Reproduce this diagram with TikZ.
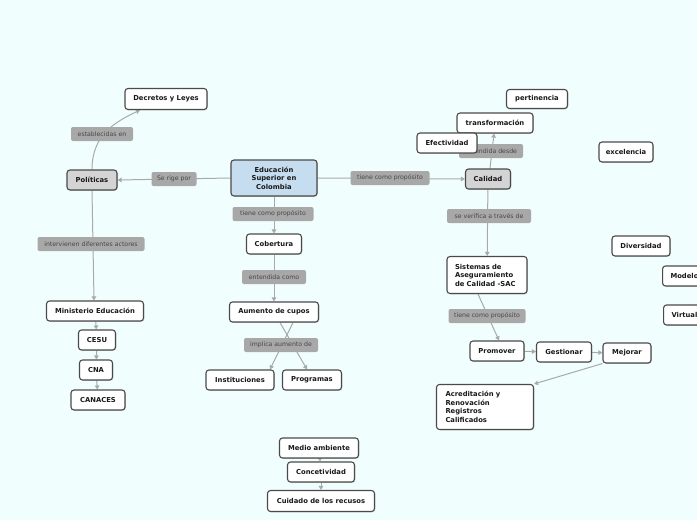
\documentclass[tikz,border=0pt]{standalone}
\usepackage{fontspec}
\setmainfont{DejaVu Sans}
\usetikzlibrary{arrows.meta,shadows,positioning}
\pgfdeclarelayer{fondo}
\pgfsetlayers{fondo,main}
\definecolor{cielo}{HTML}{F0FFFE}
\definecolor{borde}{HTML}{4A4A4A}
\definecolor{etiq}{HTML}{A8A8A8}
\definecolor{etiqtexto}{HTML}{474747}
\definecolor{linea}{HTML}{A9A9A9}
\definecolor{azul}{HTML}{C6DDF0}
\definecolor{gris}{HTML}{D4D4D4}
\tikzset{
  caja/.style={draw=borde, line width=1.1pt, fill=white, rounded corners=3pt,
    font=\fontsize{6.8}{8.5}\selectfont\bfseries, text=black!90,
    minimum height=20pt, inner xsep=2pt,
    drop shadow={shadow xshift=0.8pt, shadow yshift=-0.8pt, opacity=0.35}},
  etiqueta/.style={fill=etiq, rounded corners=2pt, text=etiqtexto,
    font=\fontsize{6.2}{7}\selectfont, minimum height=14pt, inner xsep=2pt},
  con/.style={draw=linea, line width=1pt, -{Triangle[length=4pt,width=4.5pt]}}
}
\begin{document}
\begin{tikzpicture}[x=1pt,y=-1pt]
  \useasboundingbox (0,0) rectangle (697,520);

  % conceptos
  \node[caja, fill=azul, minimum width=86pt, minimum height=36pt, align=center] (edu) at (274,178)
        {Educación\\Superior en\\Colombia};
  \node[caja, fill=gris, minimum width=50pt] (pol) at (92,180) {Políticas};
  \node[caja, minimum width=82pt, minimum height=21pt] (dec) at (166,99) {Decretos y Leyes};
  \node[caja, minimum width=97pt] (min) at (95,311) {Ministerio Educación};
  \node[caja, minimum width=37pt] (cesu) at (97,340) {CESU};
  \node[caja, minimum width=33pt] (cna) at (96,370) {CNA};
  \node[caja, minimum width=54pt] (canaces) at (98,400) {CANACES};
  \node[caja, minimum width=55pt] (cob) at (274,244) {Cobertura};
  \node[caja, minimum width=89pt] (aum) at (274,312) {Aumento de cupos};
  \node[caja, minimum width=68pt] (inst) at (240,380) {Instituciones};
  \node[caja, minimum width=59pt] (prog) at (312,380) {Programas};
  \node[caja, fill=gris, minimum width=45pt] (cal) at (488,179) {Calidad};
  \node[caja, minimum width=61pt, minimum height=19pt] (pert) at (537,99) {pertinencia};
  \node[caja, minimum width=76pt] (trans) at (495,123) {transformación};
  \node[caja, text width=64pt, inner xsep=8pt, minimum height=37pt, align=left] (sac) at (487,275)
        {Sistemas de\\Aseguramiento\\de Calidad -SAC};
  \node[caja, minimum width=54pt] (prom) at (497,351) {Promover};
  \node[caja, minimum width=55pt] (gest) at (564,352) {Gestionar};
  \node[caja, minimum width=48pt] (mej) at (627,353) {Mejorar};
  \node[caja, text width=79pt, inner xsep=9pt, minimum height=45pt, align=left] (acred) at (485,407)
        {Acreditación y\\Renovación\\Registros\\Calificados};
  \node[caja, minimum width=54pt] (exc) at (626,152) {excelencia};
  \node[caja, minimum width=58pt] (div) at (641,246) {Diversidad};
  \node[caja, anchor=west, inner xsep=8pt] (mod) at (662,276) {Modelo};
  \node[caja, anchor=west, inner xsep=8pt] (virt) at (663,315) {Virtual};
  \node[caja, minimum width=79pt] (medio) at (319,448) {Medio ambiente};
  \node[caja, minimum width=67pt] (conc) at (321,472) {Concetividad};
  \node[caja, minimum width=107pt, minimum height=21pt] (cuid) at (321,501) {Cuidado de los recusos};

  % etiquetas de enlace
  \node[etiqueta, minimum width=45pt] (rige) at (174,179) {Se rige por};
  \node[etiqueta, minimum width=62pt] (estab) at (102,134) {establecidas en};
  \node[etiqueta, minimum width=107pt] (interv) at (91,244) {intervienen diferentes actores};
  \node[etiqueta, minimum width=81pt] (prop1) at (273,214) {tiene como propósito};
  \node[etiqueta, minimum width=64pt] (entc) at (274,277) {entendida como};
  \node[etiqueta, minimum width=74pt] (impl) at (281,345) {implica aumento de};
  \node[etiqueta, minimum width=79pt] (prop2) at (390,178) {tiene como propósito};
  \node[etiqueta, minimum width=64pt] (entd) at (491,151) {entendida desde};
  \node[etiqueta, minimum width=84pt] (verif) at (489,216) {se verifica a través de};
  \node[etiqueta, minimum width=77pt] (prop3) at (487,316) {tiene como propósito};
  \node[caja, minimum width=60pt] (efec) at (447,143) {Efectividad};

  % enlaces
  \begin{pgfonlayer}{fondo}
    \fill[cielo] (0,0) rectangle (697,520);
    \draw[con] (edu.west) -- (pol.east);
    \draw[con] (pol.north) .. controls (92,135) and (115,122) .. ([xshift=-26pt]dec.south);
    \draw[con] (pol.south) -- ([xshift=-1pt]min.north);
    \draw[con] (min) -- (cesu);
    \draw[con] (cesu) -- (cna);
    \draw[con] (cna) -- (canaces);
    \draw[con] (edu) -- (cob);
    \draw[con] (cob) -- (aum);
    \draw[con] ([xshift=6pt]aum.south) -- ([xshift=-5pt]prog.north);
    \draw[con] ([xshift=19pt]aum.south) -- ([xshift=30pt]inst.north);
    \draw[con] (edu.east) -- (cal.west);
    \draw[con] ([xshift=2pt]cal.north) -- ([xshift=-1pt]trans.south);
    \draw[con] (cal) -- (sac);
    \draw[con] ([xshift=-9pt]sac.south) -- ([xshift=2pt]prom.north);
    \draw[con] (prom) -- (gest);
    \draw[con] (gest) -- (mej);
    \draw[con] (mej.south west) -- (acred.north east);
    \draw[con] (medio) -- (conc);
    \draw[con] (conc) -- (cuid);
  \end{pgfonlayer}
\end{tikzpicture}
\end{document}
